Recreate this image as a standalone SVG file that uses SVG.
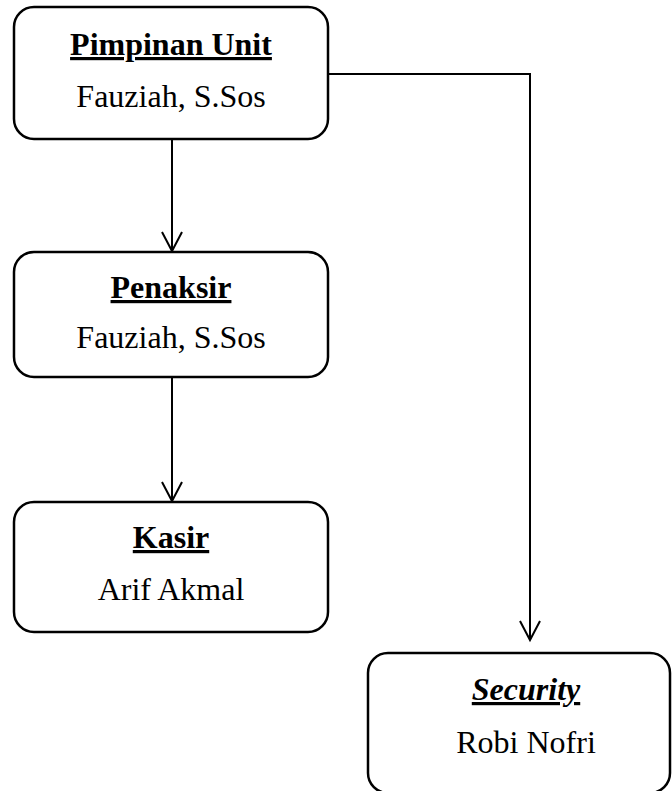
<svg xmlns="http://www.w3.org/2000/svg" width="672" height="791" viewBox="0 0 672 791">
<style>
.box{fill:#fff;stroke:#000;stroke-width:2.5}
.t{font-family:'Liberation Serif','Times New Roman',Tinos,'DejaVu Serif',serif;font-size:32px;text-anchor:middle;fill:#000}
.b{font-weight:bold;text-decoration:underline}
.c{fill:none;stroke:#000;stroke-width:2}
</style>
<defs>
<marker id="arr" markerWidth="24" markerHeight="24" refX="20" refY="10" orient="auto" markerUnits="userSpaceOnUse" viewBox="0 0 24 20">
<path d="M1,0 L20,10 L1,20" fill="none" stroke="#000" stroke-width="2"/>
</marker>
</defs>
<g id="connectors">
<path class="c" d="M172,139 V251" marker-end="url(#arr)"/>
<path class="c" d="M172,377 V501" marker-end="url(#arr)"/>
<path class="c" d="M328,74 H530 V640" marker-end="url(#arr)"/>
</g>
<g id="pimpinan">
<rect class="box" x="14" y="7" width="314" height="132" rx="20"/>
<text class="t b" x="171" y="55">Pimpinan Unit</text>
<text class="t" x="171" y="107">Fauziah, S.Sos</text>
</g>
<g id="penaksir">
<rect class="box" x="14" y="252" width="314" height="125" rx="20"/>
<text class="t b" x="171" y="298">Penaksir</text>
<text class="t" x="171" y="348">Fauziah, S.Sos</text>
</g>
<g id="kasir">
<rect class="box" x="14" y="502" width="314" height="130" rx="20"/>
<text class="t b" x="171" y="548">Kasir</text>
<text class="t" x="171" y="600">Arif Akmal</text>
</g>
<g id="security">
<rect class="box" x="368" y="653" width="302" height="140" rx="20"/>
<text class="t b" x="526" y="700" font-style="italic">Security</text>
<text class="t" x="526" y="753">Robi Nofri</text>
</g>
</svg>
